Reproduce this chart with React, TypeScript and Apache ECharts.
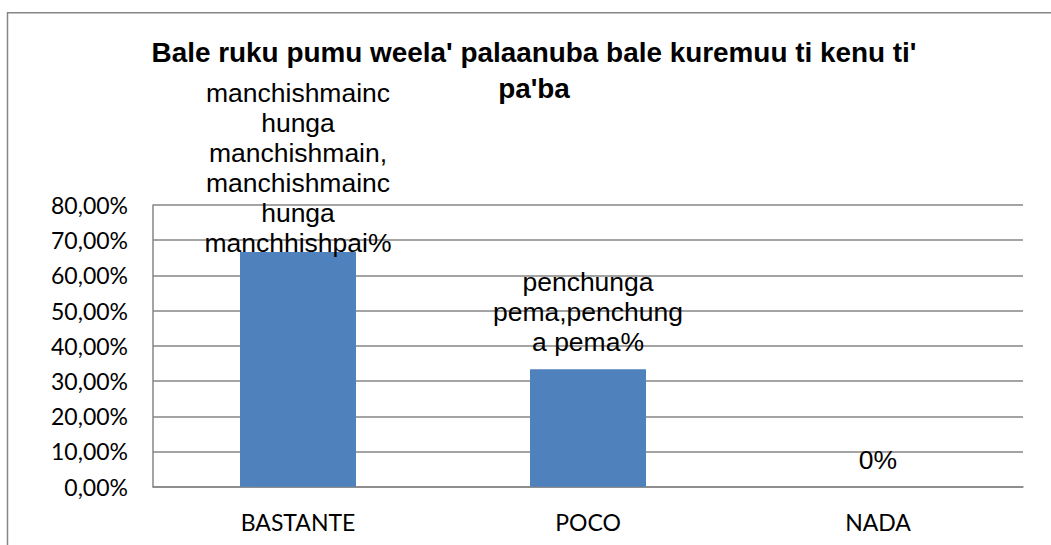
import React, { useEffect, useRef } from "react";
import * as echarts from "echarts";

const titleText = "Bale ruku pumu weela' palaanuba bale kuremuu ti kenu ti'\npa'ba";
const categories = ["BASTANTE", "POCO", "NADA"];
const values = [0.6667, 0.3333, 0];
const labelTexts = [
  "manchishmainc\nhunga\nmanchishmain,\nmanchishmainc\nhunga\nmanchhishpai%",
  "penchunga\npema,penchung\na pema%",
  "0%",
];
const labelDistances = [-6, 12, 12];
const yTickMin = 0;
const yTickMax = 0.8;
const yTickStep = 0.1;

const fmtPct = (v: number) => (v * 100).toFixed(2).replace(".", ",") + "%";

export default function App() {
  const ref = useRef<HTMLDivElement>(null);
  useEffect(() => {
    if (!ref.current) return;
    const chart = echarts.init(ref.current, null, { renderer: "svg" });
    const gray = "#868686";
    chart.setOption({
      animation: false,
      backgroundColor: "#ffffff",
      title: {
        text: titleText,
        left: 529,
        top: 29,
        textAlign: "center",
        textStyle: {
          fontFamily: "Liberation Sans",
          fontSize: 27.9,
          fontWeight: "bold",
          color: "#000",
          lineHeight: 36,
        },
      },
      graphic: [
        {
          type: "rect",
          shape: { x: 7.5, y: 12.75, width: 1200, height: 700 },
          style: { fill: "none", stroke: gray, lineWidth: 1.5 },
          silent: true,
        },
      ],
      grid: { left: 153, top: 205, width: 870, height: 281.7, containLabel: false },
      xAxis: {
        type: "category",
        data: categories,
        axisLine: { show: true, lineStyle: { color: gray, width: 1.5 } },
        axisTick: { show: false },
        axisLabel: {
          fontFamily: "Lato",
          fontSize: 23,
          color: "#000",
          margin: 23,
          lineHeight: 24,
        },
      },
      yAxis: {
        type: "value",
        min: yTickMin,
        max: yTickMax,
        interval: yTickStep,
        axisLine: { show: true, lineStyle: { color: gray, width: 1.5 } },
        axisTick: { show: false },
        splitLine: { show: true, lineStyle: { color: gray, width: 1.5 } },
        axisLabel: {
          fontFamily: "Lato",
          fontSize: 23,
          color: "#000",
          margin: 25,
          formatter: (v: number) => fmtPct(v),
        },
      },
      series: [
        {
          type: "bar",
          barWidth: "40%",
          itemStyle: { color: "#4f81bd" },
          data: values.map((v, i) => ({
            value: v,
            label: { distance: labelDistances[i] },
          })),
          label: {
            show: true,
            position: "top",
            fontFamily: "Liberation Sans",
            fontSize: 26.5,
            lineHeight: 30,
            color: "#000",
            formatter: (p: any) => labelTexts[p.dataIndex],
          },
        },
      ],
    });
    return () => chart.dispose();
  }, []);
  return (
    <div
      ref={ref}
      style={{ position: "absolute", left: 0, top: 0, width: 1051, height: 545 }}
    />
  );
}
